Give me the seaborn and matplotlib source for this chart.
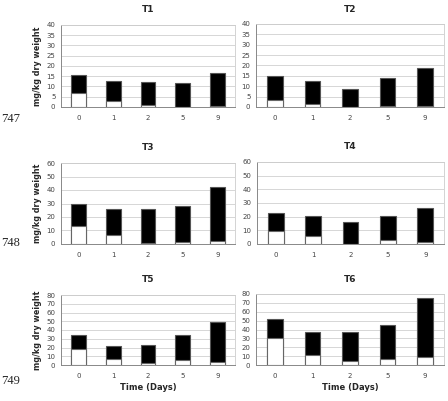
import matplotlib
matplotlib.use("Agg")
import matplotlib.pyplot as plt
import seaborn as sns
import pandas as pd
import numpy as np

sns.set_style("white")
plt.rcParams['font.family'] = ['DejaVu Sans']

days = ["0", "1", "2", "5", "9"]
titles = ["T1", "T2", "T3", "T4", "T5", "T6"]

t1_total = [15.5, 12.8, 12.2, 11.8, 16.7]
t1_white = [7.0, 2.8, 1.2, 0.2, 0.5]
t2_total = [15.0, 12.7, 8.7, 14.2, 19.0]
t2_white = [3.6, 1.6, 0.0, 0.5, 0.6]
t3_total = [29.7, 25.8, 26.0, 28.5, 42.3]
t3_white = [13.0, 6.5, 1.0, 1.3, 2.0]
t4_total = [22.5, 20.7, 16.2, 20.6, 26.7]
t4_white = [9.8, 5.7, 0.0, 2.8, 1.2]
t5_total = [34.0, 22.0, 23.0, 34.5, 49.0]
t5_white = [18.5, 6.5, 2.5, 6.0, 3.0]
t6_total = [51.5, 37.7, 37.7, 45.0, 75.0]
t6_white = [30.5, 11.5, 4.0, 7.0, 9.5]

totals = [t1_total, t2_total, t3_total, t4_total, t5_total, t6_total]
whites = [t1_white, t2_white, t3_white, t4_white, t5_white, t6_white]
ymaxes = [40, 40, 60, 60, 80, 80]
ysteps = [5, 5, 10, 10, 10, 10]

W, H = 448, 401
fig = plt.figure(figsize=(W / 100, H / 100), dpi=100)

boxes = [
    (61, 235, 25, 107), (256, 444, 24, 107),
    (61, 235, 163, 244), (257, 444, 162, 244),
    (61, 235, 295, 365), (256, 444, 294, 365),
]

for i in range(6):
    l, r, t, b = boxes[i]
    ax = fig.add_axes([l / W, 1 - b / H, (r - l) / W, (b - t) / H])
    df = pd.DataFrame({"day": days, "total": totals[i], "white": whites[i]})
    sns.barplot(data=df, x="day", y="total", order=days, color="black",
                edgecolor="#555555", linewidth=0.8, width=0.42, ax=ax,
                saturation=1)
    sns.barplot(data=df, x="day", y="white", order=days, color="white",
                edgecolor="#666666", linewidth=0.8, width=0.42, ax=ax,
                saturation=1)
    ax.set_ylim(0, ymaxes[i])
    ax.set_xlim(-0.5, 4.5)
    ax.set_yticks(np.arange(0, ymaxes[i] + 0.1, ysteps[i]))
    ax.yaxis.grid(True, color="#d0d0d0", linewidth=0.6)
    ax.set_axisbelow(True)
    ax.set_xticks(np.arange(-0.5, 5, 1), minor=True)
    ax.tick_params(axis="x", which="major", length=0, labelsize=5,
                   labelcolor="#444444", pad=6)
    ax.tick_params(axis="x", which="minor", length=3, color="#777777",
                   direction="out", width=0.6)
    ax.tick_params(axis="y", which="major", length=3, color="#777777",
                   direction="out", labelsize=5, labelcolor="#444444",
                   width=0.6, pad=1)
    for side in ["left", "bottom"]:
        ax.spines[side].set_color("#888888")
        ax.spines[side].set_linewidth(0.7)
    for side in ["top", "right"]:
        ax.spines[side].set_color("#cccccc")
        ax.spines[side].set_linewidth(0.6)
    ax.set_title(titles[i], fontsize=6.5, fontweight="bold", pad=9)
    if i % 2 == 0:
        ax.set_ylabel("mg/kg dry weight", fontsize=5.8, fontweight="bold",
                      labelpad=3)
    else:
        ax.set_ylabel("")
    if i >= 4:
        ax.set_xlabel("Time (Days)", fontsize=6, fontweight="bold", labelpad=3)
    else:
        ax.set_xlabel("")

for txt, y in [("747", 119), ("748", 243), ("749", 381)]:
    fig.text(1 / W, 1 - y / H, txt, fontsize=9, family="Liberation Serif",
             va="center", ha="left")

fig.savefig("out.png", dpi=100)
